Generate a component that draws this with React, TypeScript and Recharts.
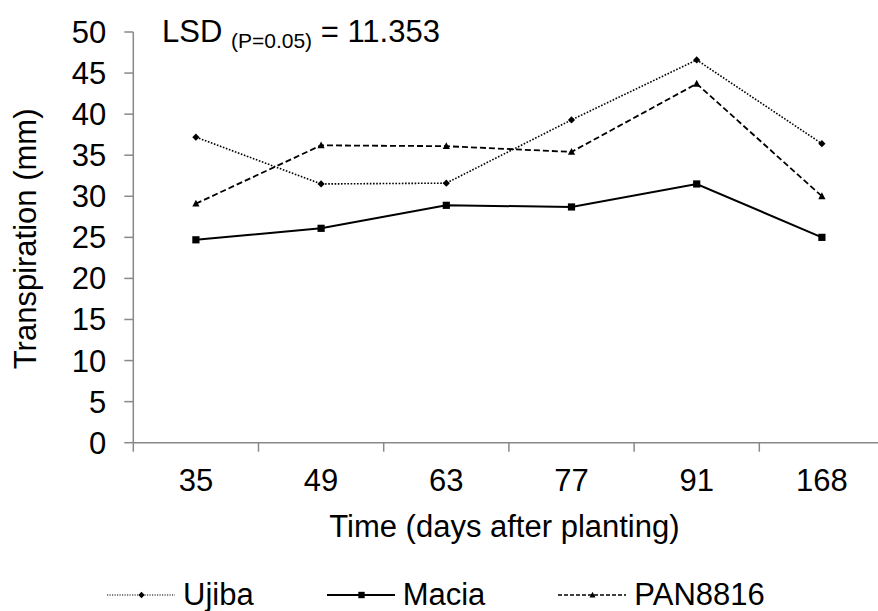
import React from 'react';
import { ComposedChart, Line, XAxis, YAxis, Legend, Customized } from 'recharts';

// Sampling days (days after planting)
const days = ['35', '49', '63', '77', '91', '168'];

// Transpiration (mm) per cultivar
const ujiba = [37.2, 31.5, 31.6, 39.3, 46.6, 36.4];
const macia = [24.7, 26.1, 28.9, 28.7, 31.5, 25.0];
const pan8816 = [29.1, 36.2, 36.1, 35.4, 43.7, 30.0];

const seriesOrder = ['Ujiba', 'Macia', 'PAN8816'];

const yTicks = [0, 5, 10, 15, 20, 25, 30, 35, 40, 45, 50];

const lsdValue = '11.353';

const data = days.map((day, i) => ({
  day,
  Ujiba: ujiba[i],
  Macia: macia[i],
  PAN8816: pan8816[i],
}));

const FONT = '"Liberation Sans", Arial, sans-serif';
const AXIS_GREY = '#898989';

const CHART_W = 900;
const CHART_H = 611;
const MARGIN = { top: 32, right: 15.5, bottom: 68.3, left: 0 };
const Y_AXIS_W = 133.3;
const X_AXIS_H = 100;
const TICK_SIZE = 9;
const TICK_MARGIN = 17;
const BAND = (CHART_W - MARGIN.left - MARGIN.right - Y_AXIS_W) / days.length;

type MarkerKind = 'diamond' | 'square' | 'triangle';

function markerPath(kind: MarkerKind, cx: number, cy: number, r: number) {
  if (kind === 'diamond') {
    return `M${cx},${cy - r}L${cx + r},${cy}L${cx},${cy + r}L${cx - r},${cy}Z`;
  }
  if (kind === 'square') {
    return `M${cx - r},${cy - r}H${cx + r}V${cy + r}H${cx - r}Z`;
  }
  return `M${cx},${cy - r * 1.1}L${cx + r},${cy + r * 0.8}L${cx - r},${cy + r * 0.8}Z`;
}

const makeDot = (kind: MarkerKind, r: number) => (props: any) => {
  const { cx, cy, index } = props;
  if (cx == null || cy == null) return <g key={`m-${kind}-${index}`} />;
  return <path key={`m-${kind}-${index}`} d={markerPath(kind, cx, cy, r)} fill="#000" stroke="none" />;
};

const seriesStyle: Record<string, { dash?: string; width: number; marker: MarkerKind; legendDash?: string; legendWidth: number; legendR: number }> = {
  Ujiba: { dash: '1.6 1.6', width: 1.6, marker: 'diamond', legendDash: '1.2 1.3', legendWidth: 1.2, legendR: 3.2 },
  Macia: { width: 2, marker: 'square', legendWidth: 2, legendR: 3.2 },
  PAN8816: { dash: '6 3', width: 1.8, marker: 'triangle', legendDash: '4 2', legendWidth: 1.4, legendR: 3 },
};

// Category labels sit in the middle of each band; tick marks sit on band edges
const XTick = (props: any) => {
  const { x, y, payload, index } = props;
  const axisY = y - TICK_SIZE - TICK_MARGIN;
  const left = x - BAND / 2;
  const right = x + BAND / 2;
  return (
    <g>
      <line x1={left} y1={axisY} x2={left} y2={axisY + TICK_SIZE} stroke={AXIS_GREY} strokeWidth={1.5} />
      {index === days.length - 1 && (
        <line x1={right} y1={axisY} x2={right} y2={axisY + TICK_SIZE} stroke={AXIS_GREY} strokeWidth={1.5} />
      )}
      <text x={x} y={y} dy="0.71em" textAnchor="middle" fill="#000" fontSize={31} fontFamily={FONT}>
        {payload.value}
      </text>
    </g>
  );
};

const XTitle = (props: any) => {
  const vb = props.viewBox || { x: 0, y: 0, width: 0, height: 0 };
  return (
    <text
      x={vb.x + vb.width / 2 - 4.5}
      y={vb.y + 94}
      textAnchor="middle"
      fill="#000"
      fontSize={31}
      fontFamily={FONT}
    >
      Time (days after planting)
    </text>
  );
};

const YTitle = (props: any) => {
  const vb = props.viewBox || { x: 0, y: 0, width: 0, height: 0 };
  const cx = vb.x + 36.5;
  const cy = vb.y + vb.height / 2 + 1.5;
  return (
    <text
      x={cx}
      y={cy}
      transform={`rotate(-90, ${cx}, ${cy})`}
      textAnchor="middle"
      fill="#000"
      fontSize={31}
      fontFamily={FONT}
    >
      Transpiration (mm)
    </text>
  );
};

const LsdNote = () => (
  <text x={162} y={41.7} fill="#000" fontSize={31} fontFamily={FONT}>
    LSD{' '}
    <tspan fontSize={21} dy={6.6}>(P=0.05)</tspan>
    <tspan dy={-6.6}>{` = ${lsdValue}`}</tspan>
  </text>
);

const LegendContent = (props: any) => {
  const payload = props.payload || [];
  const entries = seriesOrder
    .map((key) => payload.find((p: any) => p.dataKey === key))
    .filter(Boolean);
  return (
    <div
      style={{
        display: 'flex',
        alignItems: 'center',
        height: 28,
        paddingLeft: 107,
        fontFamily: FONT,
        fontSize: 31,
        color: '#000',
      }}
    >
      {entries.map((entry: any) => {
        const st = seriesStyle[entry.dataKey];
        return (
          <div key={entry.dataKey} style={{ display: 'flex', alignItems: 'center', marginRight: 73 }}>
            <svg width={68} height={28} style={{ display: 'block' }}>
              <line
                x1={0}
                y1={14}
                x2={68}
                y2={14}
                stroke="#000"
                strokeWidth={st.legendWidth}
                strokeDasharray={st.legendDash}
              />
              <path d={markerPath(st.marker, 34.5, 14, st.legendR)} fill="#000" />
            </svg>
            <span style={{ marginLeft: 8, lineHeight: '28px' }}>{entry.value}</span>
          </div>
        );
      })}
    </div>
  );
};

export default function App() {
  return (
    <div
      style={{
        position: 'absolute',
        top: 0,
        left: 0,
        width: 878,
        height: 611,
        overflow: 'hidden',
        background: '#fff',
      }}
    >
      <ComposedChart width={CHART_W} height={CHART_H} data={data} margin={MARGIN}>
        <XAxis
          dataKey="day"
          scale="band"
          height={X_AXIS_H}
          stroke={AXIS_GREY}
          strokeWidth={1.5}
          tickLine={false}
          tickSize={TICK_SIZE}
          tickMargin={TICK_MARGIN}
          tick={<XTick />}
          interval={0}
          label={<XTitle />}
        />
        <YAxis
          domain={[0, 50]}
          ticks={yTicks}
          width={Y_AXIS_W}
          stroke={AXIS_GREY}
          strokeWidth={1.5}
          tickSize={TICK_SIZE}
          tickMargin={18}
          tick={{ fill: '#000', fontSize: 31, fontFamily: FONT }}
          tickLine={{ stroke: AXIS_GREY, strokeWidth: 1.5 }}
          interval={0}
          label={<YTitle />}
        />
        <Legend
          layout="horizontal"
          verticalAlign="middle"
          align="center"
          content={<LegendContent />}
          wrapperStyle={{ top: 581, left: 0, width: 878, height: 28 }}
        />
        <Line
          dataKey="Ujiba"
          name="Ujiba"
          stroke="#000"
          strokeWidth={seriesStyle.Ujiba.width}
          strokeDasharray={seriesStyle.Ujiba.dash}
          dot={makeDot('diamond', 3.6)}
          activeDot={false}
          isAnimationActive={false}
        />
        <Line
          dataKey="Macia"
          name="Macia"
          stroke="#000"
          strokeWidth={seriesStyle.Macia.width}
          dot={makeDot('square', 3.6)}
          activeDot={false}
          isAnimationActive={false}
        />
        <Line
          dataKey="PAN8816"
          name="PAN8816"
          stroke="#000"
          strokeWidth={seriesStyle.PAN8816.width}
          strokeDasharray={seriesStyle.PAN8816.dash}
          dot={makeDot('triangle', 3.6)}
          activeDot={false}
          isAnimationActive={false}
        />
        <Customized component={LsdNote} />
      </ComposedChart>
    </div>
  );
}
